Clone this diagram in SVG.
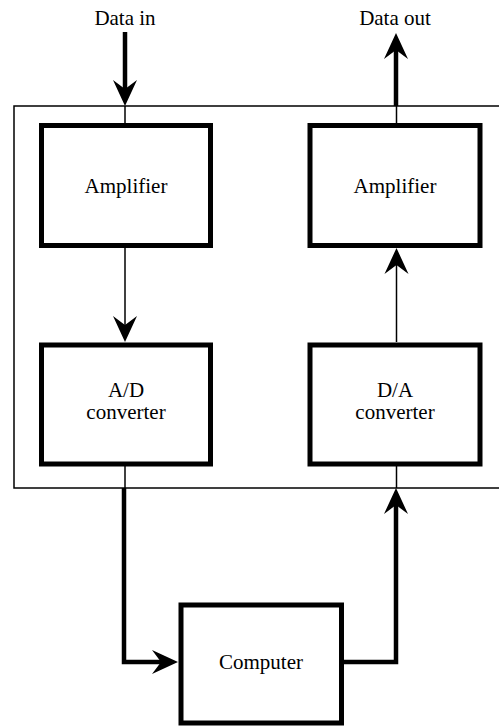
<svg xmlns="http://www.w3.org/2000/svg" width="499" height="726" viewBox="0 0 499 726">
<style>
.box{fill:#fff;stroke:#000;stroke-width:5}
.frame{fill:none;stroke:#000;stroke-width:1.5}
.thin{fill:none;stroke:#000;stroke-width:1.5}
.thick{fill:none;stroke:#000;stroke-width:4.5}
.t{font-family:"Times New Roman","Liberation Serif","DejaVu Serif",serif;font-size:21px;fill:#000;text-anchor:middle}
</style>
<defs>
<marker id="ah" viewBox="0 -13 26 26" markerWidth="26" markerHeight="26" markerUnits="userSpaceOnUse" refX="12" refY="0" orient="auto">
<path d="M26,0 L0,-12 L9,0 L0,12 Z" fill="#000"/>
</marker>
</defs>
<rect id="frame" class="frame" x="14" y="106" width="520" height="382"/>
<g id="connectors">
<line class="thick" x1="125" y1="32" x2="125" y2="92" marker-end="url(#ah)"/>
<line class="thin" x1="125" y1="106" x2="125" y2="123"/>
<line class="thin" x1="125" y1="248" x2="125" y2="328" marker-end="url(#ah)"/>
<line class="thin" x1="125" y1="466" x2="125" y2="488"/>
<path class="thick" d="M124,488 V662 H164" marker-end="url(#ah)"/>
<path class="thick" d="M342,662 H396 V502" marker-end="url(#ah)"/>
<line class="thin" x1="396.5" y1="466" x2="396.5" y2="488"/>
<line class="thin" x1="396.5" y1="342" x2="396.5" y2="262" marker-end="url(#ah)"/>
<line class="thin" x1="396.5" y1="106" x2="396.5" y2="123"/>
<line class="thick" x1="396" y1="106" x2="396" y2="47" marker-end="url(#ah)"/>
</g>
<g id="label-data-in"><text class="t" x="125" y="25">Data in</text></g>
<g id="label-data-out"><text class="t" x="395" y="25">Data out</text></g>
<g id="amp-in"><rect class="box" x="41.5" y="125.5" width="169" height="120"/><text class="t" x="126" y="193">Amplifier</text></g>
<g id="amp-out"><rect class="box" x="310" y="125.5" width="170" height="120"/><text class="t" x="395" y="193">Amplifier</text></g>
<g id="adc"><rect class="box" x="41.5" y="345" width="169" height="119"/><text class="t" x="126" y="397">A/D</text><text class="t" x="126" y="419">converter</text></g>
<g id="dac"><rect class="box" x="310" y="345" width="170" height="119"/><text class="t" x="395" y="397">D/A</text><text class="t" x="395" y="419">converter</text></g>
<g id="computer"><rect class="box" x="181" y="605" width="160.5" height="118"/><text class="t" x="261" y="669">Computer</text></g>
</svg>
